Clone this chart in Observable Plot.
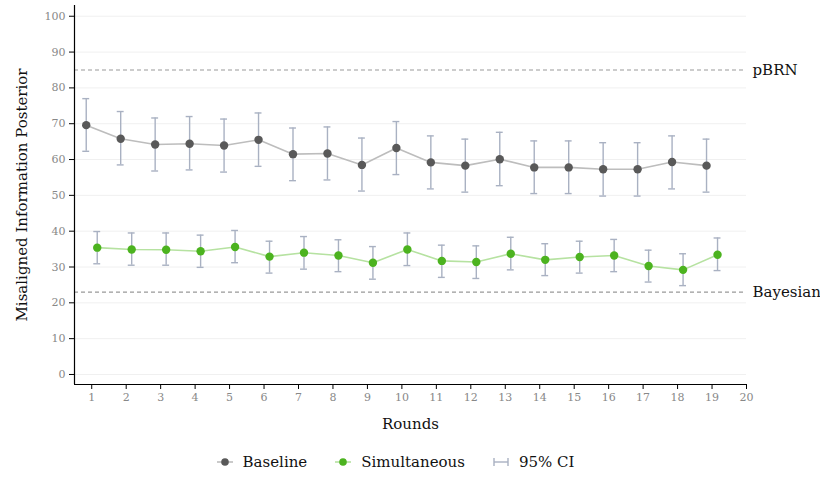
<!DOCTYPE html>
<html>
<head>
<meta charset="utf-8">
<script src="https://cdn.jsdelivr.net/npm/d3@7"></script>
<script src="https://cdn.jsdelivr.net/npm/@observablehq/plot@0.6"></script>
<style>
  body { margin: 0; background: #fff; font-family: "DejaVu Serif", serif; }
  #chart svg { font-family: "DejaVu Serif", serif; overflow: visible; }
  #chart g[aria-label$="tick label"] { fill: #888; }
  #legend { display: flex; justify-content: center; align-items: center; gap: 27px; font-size: 15px; color: #111; margin-top: 13px; padding-right: 30px; }
  #legend .item { display: flex; align-items: center; gap: 9px; }
</style>
</head>
<body>
<div id="chart"></div>
<div id="legend"></div>
<script>
const rounds = [1,2,3,4,5,6,7,8,9,10,11,12,13,14,15,16,17,18,19];
const baselineMean = [69.6,65.8,64.2,64.4,63.9,65.5,61.5,61.7,58.5,63.2,59.2,58.3,60.1,57.8,57.8,57.3,57.3,59.3,58.3];
const baselineLo   = [62.3,58.5,56.8,57.1,56.5,58.1,54.1,54.3,51.2,55.8,51.8,50.9,52.7,50.5,50.5,49.8,49.8,51.8,50.9];
const baselineHi   = [77.0,73.4,71.6,72.0,71.3,73.0,68.8,69.1,66.0,70.6,66.6,65.7,67.6,65.2,65.2,64.7,64.7,66.6,65.7];
const simMean = [35.4,34.9,34.8,34.4,35.6,32.9,34.0,33.2,31.2,34.9,31.7,31.4,33.7,32.0,32.8,33.2,30.3,29.2,33.4];
const simLo   = [30.9,30.5,30.5,29.9,31.2,28.3,29.4,28.7,26.6,30.4,27.1,26.8,29.2,27.6,28.3,28.7,25.8,24.8,29.0];
const simHi   = [39.9,39.5,39.5,38.9,40.2,37.2,38.5,37.6,35.7,39.5,36.1,35.9,38.3,36.5,37.2,37.7,34.7,33.7,38.1];
const refValues = [85, 23];
const refLabels = ["pBRN", "Bayesian"];
const xTicks = [1,2,3,4,5,6,7,8,9,10,11,12,13,14,15,16,17,18,19,20];
const yTicks = [0,10,20,30,40,50,60,70,80,90,100];

const baseline = rounds.map((r, i) => ({round: r, mean: baselineMean[i], lo: baselineLo[i], hi: baselineHi[i]}));
const sim = rounds.map((r, i) => ({round: r, mean: simMean[i], lo: simLo[i], hi: simHi[i]}));
const refs = refValues.map((v, i) => ({value: v, label: refLabels[i]}));

const ciColor = "#a9b1c2";
const capHalf = 0.1;

function series(data, dx, lineColor, dotColor) {
  return [
    Plot.ruleX(data, {x: "round", y1: "lo", y2: "hi", dx, stroke: ciColor, strokeWidth: 1.4}),
    Plot.ruleY(data, {y: "hi", x1: d => d.round - capHalf, x2: d => d.round + capHalf, dx, stroke: ciColor, strokeWidth: 1.4}),
    Plot.ruleY(data, {y: "lo", x1: d => d.round - capHalf, x2: d => d.round + capHalf, dx, stroke: ciColor, strokeWidth: 1.4}),
    Plot.line(data, {x: "round", y: "mean", dx, stroke: lineColor, strokeWidth: 1.6}),
    Plot.dot(data, {x: "round", y: "mean", dx, r: 4.2, fill: dotColor, stroke: "none"})
  ];
}

const chart = Plot.plot({
  width: 820,
  height: 440,
  marginLeft: 74,
  marginRight: 74,
  marginTop: 5,
  marginBottom: 56,
  style: {fontSize: "11px", fontFamily: "'DejaVu Serif', serif", background: "#fff"},
  x: {domain: [0.5, 20]},
  y: {domain: [-2.8, 103]},
  marks: [
    Plot.ruleY(yTicks, {stroke: "#f0f0f0", strokeWidth: 1}),
    Plot.ruleY(refs, {y: "value", stroke: "#999", strokeDasharray: "4,3", strokeWidth: 1.1}),
    Plot.text(refs, {x: 20, y: "value", text: "label", dx: 6, textAnchor: "start", fontSize: 15, fill: "#111"}),
    ...series(baseline, -5.5, "#bdbdbd", "#595959"),
    ...series(sim, 5.5, "#b6e2a1", "#4cb31f"),
    Plot.ruleX([0.5], {stroke: "#000", strokeWidth: 1.2}),
    Plot.ruleY([-2.8], {stroke: "#000", strokeWidth: 1.2}),
    Plot.axisX({ticks: xTicks, tickSize: 5, tickPadding: 4, stroke: "#000", label: "Rounds", labelAnchor: "center", labelArrow: "none", labelOffset: 44, fontSize: 11}),
    Plot.axisY({ticks: yTicks, tickSize: 5, tickPadding: 4, stroke: "#000", label: "Misaligned Information Posterior", labelAnchor: "center", labelArrow: "none", labelOffset: 58, fontSize: 11})
  ]
});
document.getElementById("chart").appendChild(chart);
chart.querySelectorAll('g[aria-label$="-axis label"] text, g[aria-label$="-axis label"]').forEach(el => { el.style.fontSize = "15px"; el.style.fill = "#111"; });

const legendItems = [
  {label: "Baseline", kind: "dot", color: "#595959", line: "#bdbdbd"},
  {label: "Simultaneous", kind: "dot", color: "#4cb31f", line: "#b6e2a1"},
  {label: "95% CI", kind: "ci", color: ciColor}
];
const legend = document.getElementById("legend");
for (const it of legendItems) {
  const div = document.createElement("div");
  div.className = "item";
  const icon = it.kind === "dot"
    ? `<svg width="18" height="12"><line x1="1" x2="17" y1="6" y2="6" stroke="${it.line}" stroke-width="1.6"/><circle cx="9" cy="6" r="3.8" fill="${it.color}"/></svg>`
    : `<svg width="18" height="12"><line x1="2" x2="16" y1="6" y2="6" stroke="${it.color}" stroke-width="1.4"/><line x1="2" x2="2" y1="2" y2="10" stroke="${it.color}" stroke-width="1.4"/><line x1="16" x2="16" y1="2" y2="10" stroke="${it.color}" stroke-width="1.4"/></svg>`;
  div.innerHTML = icon + `<span>${it.label}</span>`;
  legend.appendChild(div);
}
</script>
</body>
</html>
